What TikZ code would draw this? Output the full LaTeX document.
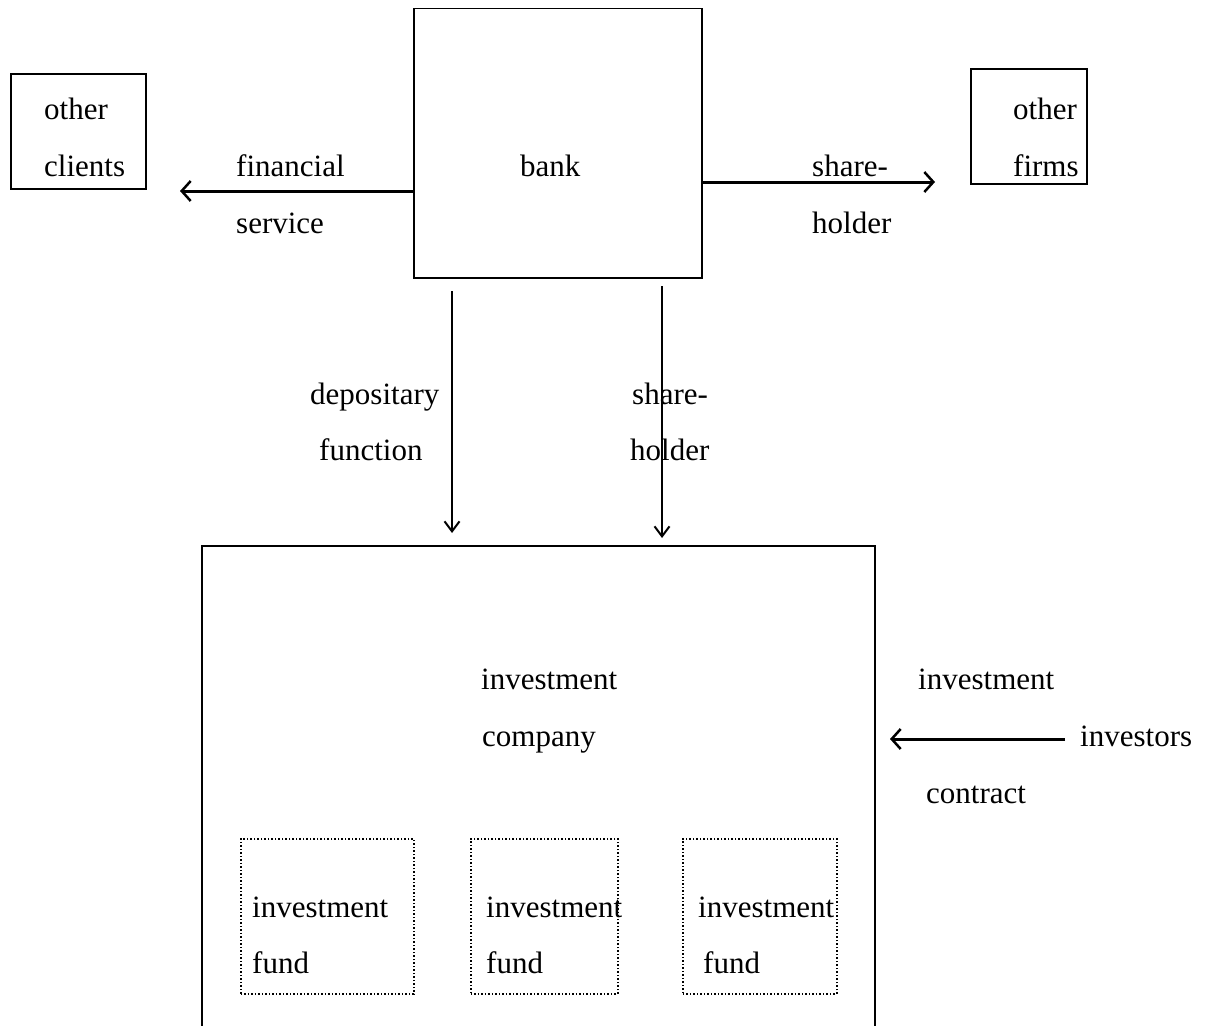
\documentclass[tikz,border=0pt]{standalone}
\usepackage{fontspec}
\setmainfont{Liberation Serif}
\usetikzlibrary{arrows.meta}
\tikzset{
  box/.style={draw, line width=1.5pt},
  fundbox/.style={draw, line width=1.5pt, dotted},
  lbl/.style={anchor=base west, inner sep=0pt, font=\fontsize{31}{37}\selectfont},
  thickarrow/.style={line width=3pt, -{Straight Barb[length=9pt, width=20pt, line width=2.5pt]}},
  thinarrow/.style={line width=2pt, -{Straight Barb[length=10pt, width=15pt, line width=2pt]}},
}
\begin{document}
\begin{tikzpicture}[x=1pt, y=-1pt]
\useasboundingbox (0,0) rectangle (1212,1025);
% boxes
\node[box, minimum width=135pt, minimum height=115pt, anchor=north west, inner sep=0pt] (clients) at (10,73) {};
\node[box, minimum width=288pt, minimum height=269pt, anchor=north west, inner sep=0pt] (bank) at (413,8) {};
\node[box, minimum width=116pt, minimum height=115pt, anchor=north west, inner sep=0pt] (firms) at (970,68) {};
\draw[line width=1.5pt] (202,1030) -- (202,546) coordinate (icNW) -- (875,546) coordinate (icNE) -- (875,1030);
\node[fundbox, minimum width=173pt, minimum height=155pt, anchor=north west, inner sep=0pt] (f1) at (240,838) {};
\node[fundbox, minimum width=147pt, minimum height=155pt, anchor=north west, inner sep=0pt] (f2) at (470,838) {};
\node[fundbox, minimum width=154pt, minimum height=155pt, anchor=north west, inner sep=0pt] (f3) at (682,838) {};
% coordinates for connectors
\coordinate (fsS) at (413,191);
\coordinate (fsE) at (180,191);
\coordinate (shS) at (701,182);
\coordinate (shE) at (935,182);
\coordinate (dpS) at (452,291);
\coordinate (dpE) at (452,533);
\coordinate (sh2S) at (662,286);
\coordinate (sh2E) at (662,538);
\coordinate (ivS) at (1065,739);
\coordinate (ivE) at (890,739);
% connectors
\draw[thickarrow] (fsS) -- (fsE);
\draw[thickarrow] (shS) -- (shE);
\draw[thinarrow] (dpS) -- (dpE);
\draw[thinarrow] (sh2S) -- (sh2E);
\draw[thickarrow] (ivS) -- (ivE);
% texts
\node[lbl] (t1) at (44,119) {other};
\node[lbl] (t2) at (44,176) {clients};
\node[lbl] (t3) at (236,176) {financial};
\node[lbl] (t4) at (236,233) {service};
\node[lbl] (t5) at (520,176) {bank};
\node[lbl] (t6) at (812,176) {share-};
\node[lbl] (t7) at (812,233) {holder};
\node[lbl] (t8) at (1013,119) {other};
\node[lbl] (t9) at (1013,176) {firms};
\node[lbl] (t10) at (310,404) {depositary};
\node[lbl] (t11) at (319,460) {function};
\node[lbl] (t12) at (632,404) {share-};
\node[lbl] (t13) at (630,460) {holder};
\node[lbl] (t14) at (481,689) {investment};
\node[lbl] (t15) at (482,746) {company};
\node[lbl] (t16) at (918,689) {investment};
\node[lbl] (t17) at (1080,746) {investors};
\node[lbl] (t18) at (926,803) {contract};
\node[lbl] (t19) at (252,917) {investment};
\node[lbl] (t20) at (252,973) {fund};
\node[lbl] (t21) at (486,917) {investment};
\node[lbl] (t22) at (486,973) {fund};
\node[lbl] (t23) at (698,917) {investment};
\node[lbl] (t24) at (703,973) {fund};
\end{tikzpicture}
\end{document}
